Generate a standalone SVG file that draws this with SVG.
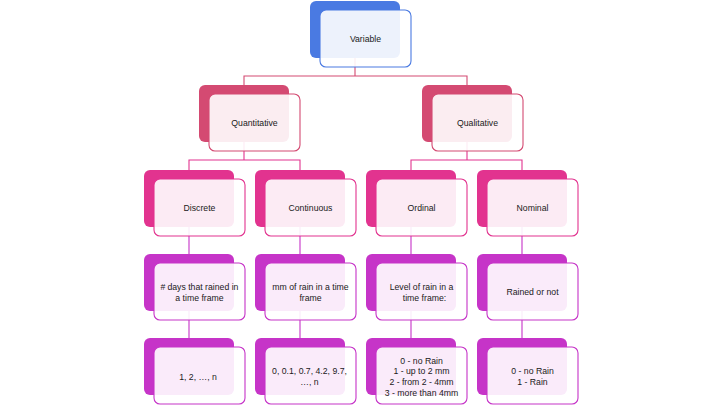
<svg xmlns="http://www.w3.org/2000/svg" width="720" height="405" viewBox="0 0 720 405">
<style>
  .t{font-family:"Liberation Sans",Arial,sans-serif;font-size:8.7px;fill:#1a1a1a;text-anchor:middle}
  .front{fill:#ffffff;fill-opacity:0.9;stroke-width:1.1}
  .c1 .back{fill:#4a7ae2}.c1 .front{stroke:#4a7ae2}
  .c2 .back{fill:#d44a72}.c2 .front{stroke:#d44a72}
  .c3 .back{fill:#e2338f}.c3 .front{stroke:#e2338f}
  .c4 .back{fill:#c634c8}.c4 .front{stroke:#c634c8}
  .conn path{fill:none;stroke-width:1.1}
</style>
<rect width="720" height="405" fill="#ffffff"/>
<g id="connectors" class="conn">
  <path d="M355 58V76M244 85V76H467V85" stroke="#d44a72"/>
  <path d="M244 142V160M189 170V160H300V170M467 142V160M411 170V160H522V170" stroke="#e2338f"/>
  <path d="M189 227V254M300 227V254M411 227V254M522 227V254" stroke="#c634c8"/>
  <path d="M189 311V338M300 311V338M411 311V338M522 311V338" stroke="#c634c8"/>
</g>
<g id="variable" class="c1">
  <rect class="back" x="310" y="1" width="90" height="57" rx="6"/>
  <rect class="front" x="320" y="10" width="91" height="57" rx="6"/>
  <text class="t" x="365.5" y="41.5">Variable</text>
</g>
<g id="quantitative" class="c2">
  <rect class="back" x="199" y="85" width="90" height="57" rx="6"/>
  <rect class="front" x="209" y="94" width="91" height="57" rx="6"/>
  <text class="t" x="254.5" y="125.5">Quantitative</text>
</g>
<g id="qualitative" class="c2">
  <rect class="back" x="422" y="85" width="90" height="57" rx="6"/>
  <rect class="front" x="432" y="94" width="91" height="57" rx="6"/>
  <text class="t" x="477.5" y="125.5">Qualitative</text>
</g>
<g id="discrete" class="c3">
  <rect class="back" x="144" y="170" width="90" height="57" rx="6"/>
  <rect class="front" x="154" y="179" width="91" height="57" rx="6"/>
  <text class="t" x="199.5" y="210.5">Discrete</text>
</g>
<g id="continuous" class="c3">
  <rect class="back" x="255" y="170" width="90" height="57" rx="6"/>
  <rect class="front" x="265" y="179" width="91" height="57" rx="6"/>
  <text class="t" x="310.5" y="210.5">Continuous</text>
</g>
<g id="ordinal" class="c3">
  <rect class="back" x="366" y="170" width="90" height="57" rx="6"/>
  <rect class="front" x="376" y="179" width="91" height="57" rx="6"/>
  <text class="t" x="421.5" y="210.5">Ordinal</text>
</g>
<g id="nominal" class="c3">
  <rect class="back" x="477" y="170" width="90" height="57" rx="6"/>
  <rect class="front" x="487" y="179" width="91" height="57" rx="6"/>
  <text class="t" x="532.5" y="210.5">Nominal</text>
</g>
<g id="discrete-example" class="c4">
  <rect class="back" x="144" y="254" width="90" height="57" rx="6"/>
  <rect class="front" x="154" y="263" width="91" height="57" rx="6"/>
  <text class="t" x="199.5" y="289.5">#<tspan dx="2">days that rained in</tspan></text>
  <text class="t" x="199.5" y="300.5">a time frame</text>
</g>
<g id="continuous-example" class="c4">
  <rect class="back" x="255" y="254" width="90" height="57" rx="6"/>
  <rect class="front" x="265" y="263" width="91" height="57" rx="6"/>
  <text class="t" x="310.5" y="289.5">mm of rain in a time</text>
  <text class="t" x="310.5" y="300.5">frame</text>
</g>
<g id="ordinal-example" class="c4">
  <rect class="back" x="366" y="254" width="90" height="57" rx="6"/>
  <rect class="front" x="376" y="263" width="91" height="57" rx="6"/>
  <text class="t" x="421.5" y="289.5">Level of rain in a</text>
  <text class="t" x="424.5" y="300.5">time frame:</text>
</g>
<g id="nominal-example" class="c4">
  <rect class="back" x="477" y="254" width="90" height="57" rx="6"/>
  <rect class="front" x="487" y="263" width="91" height="57" rx="6"/>
  <text class="t" x="532.5" y="294.5">Rained or not</text>
</g>
<g id="discrete-values" class="c4">
  <rect class="back" x="144" y="338" width="90" height="57" rx="6"/>
  <rect class="front" x="154" y="347" width="91" height="57" rx="6"/>
  <text class="t" x="198" y="379.5">1, 2, …, n</text>
</g>
<g id="continuous-values" class="c4">
  <rect class="back" x="255" y="338" width="90" height="57" rx="6"/>
  <rect class="front" x="265" y="347" width="91" height="57" rx="6"/>
  <text class="t" x="309.5" y="373.5">0, 0.1, 0.7, 4.2, 9.7,</text>
  <text class="t" x="309.5" y="384.5">…, n</text>
</g>
<g id="ordinal-values" class="c4">
  <rect class="back" x="366" y="338" width="90" height="57" rx="6"/>
  <rect class="front" x="376" y="347" width="91" height="57" rx="6"/>
  <text class="t" x="421.5" y="363.5">0 - no Rain</text>
  <text class="t" x="421.5" y="374.3">1 - up to 2 mm</text>
  <text class="t" x="421.5" y="385">2 - from 2 - 4mm</text>
  <text class="t" x="421.5" y="395.6">3 - more than 4mm</text>
</g>
<g id="nominal-values" class="c4">
  <rect class="back" x="477" y="338" width="90" height="57" rx="6"/>
  <rect class="front" x="487" y="347" width="91" height="57" rx="6"/>
  <text class="t" x="532.5" y="373.5">0 - no Rain</text>
  <text class="t" x="532.5" y="384.5">1 - Rain</text>
</g>
</svg>
